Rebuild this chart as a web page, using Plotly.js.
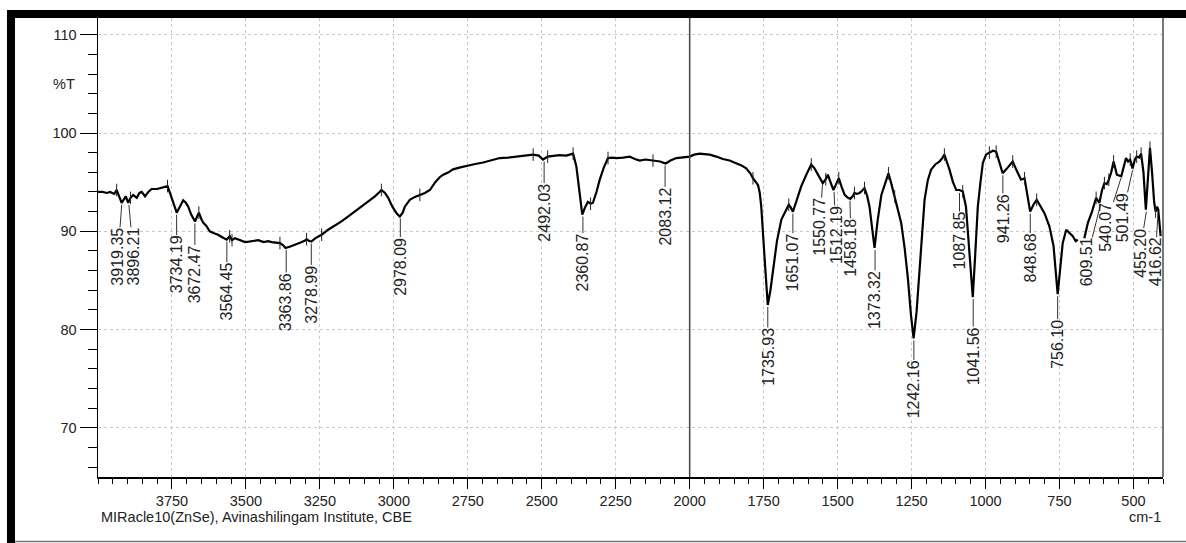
<!DOCTYPE html>
<html>
<head>
<meta charset="utf-8">
<script src="https://cdn.plot.ly/plotly-3.0.1.min.js"></script>
<style>
html,body{margin:0;padding:0;background:#fff;}
#chart{width:1186px;height:543px;}
</style>
</head>
<body>
<div id="chart"></div>
<script>
// Spectrum (wavenumber, cm-1) and %T
const wavenumber = [4000,3985,3970,3959,3945,3937,3928,3920,3906,3898,3890,3881,3869,3860,3852,3841,3830,3819,3800,3785,3775,3765,3758,3751,3742,3734,3725,3712,3703,3695,3685,3672,3665,3659,3650,3644,3635,3622,3608,3594,3580,3565,3555,3547,3537,3520,3503,3490,3475,3458,3440,3425,3413,3400,3385,3375,3366,3350,3334,3315,3300,3295,3285,3278,3265,3244,3222,3200,3177,3155,3132,3110,3092,3075,3064,3050,3042,3030,3019,3005,2990,2980,2970,2963,2946,2929,2912,2895,2878,2860,2845,2833,2815,2800,2775,2754,2725,2698,2670,2642,2615,2586,2560,2529,2510,2496,2480,2462,2440,2417,2394,2383,2372,2363,2354,2344,2335,2327,2315,2304,2290,2276,2262,2248,2225,2203,2185,2169,2150,2124,2100,2081,2065,2045,2020,2000,1985,1966,1950,1932,1910,1888,1865,1842,1825,1809,1795,1786,1778,1769,1763,1758,1747,1736,1727,1719,1705,1690,1675,1665,1658,1651,1640,1623,1605,1589,1578,1567,1558,1550,1540,1533,1524,1514,1505,1496,1486,1476,1465,1457,1448,1443,1435,1426,1418,1409,1400,1392,1384,1375,1365,1352,1340,1328,1318,1307,1296,1285,1273,1262,1252,1243,1233,1223,1214,1206,1195,1184,1170,1155,1145,1139,1130,1122,1110,1099,1088,1077,1066,1055,1043,1035,1026,1017,1009,998,987,975,964,953,942,930,920,908,895,880,868,858,849,838,827,815,800,784,770,756,746,739,727,716,705,695,688,677,666,654,640,626,615,606,598,590,583,575,567,560,556,541,533,525,518,511,503,495,489,481,474,466,458,451,444,437,430,425,420,416,412,408];
const transmittance = [94.0,94.0,93.9,94.0,93.8,94.2,93.5,92.9,93.55,92.9,93.4,93.7,93.4,93.9,94.0,93.55,94.0,94.3,94.3,94.4,94.5,94.6,94.0,93.4,92.6,91.9,92.4,93.15,92.9,92.5,91.7,91.0,91.5,91.9,91.2,90.85,90.6,90.0,89.8,89.65,89.4,89.15,89.5,89.1,89.3,89.1,88.9,88.95,89.0,89.1,88.9,89.0,88.9,88.85,88.8,88.6,88.3,88.45,88.6,88.85,89.05,89.2,89.0,88.97,89.3,89.65,90.16,90.55,91.0,91.5,92.0,92.5,92.9,93.3,93.55,93.95,94.2,93.9,93.4,92.5,91.8,91.5,91.9,92.5,93.2,93.5,93.7,93.9,94.2,95.0,95.5,95.76,96.0,96.3,96.5,96.67,96.85,97.0,97.2,97.45,97.5,97.6,97.7,97.8,97.7,97.3,97.6,97.7,97.75,97.7,97.9,96.6,94.0,91.7,92.4,93.0,92.8,92.9,94.0,95.25,96.5,97.45,97.5,97.45,97.5,97.6,97.35,97.2,97.3,97.2,97.1,96.9,97.2,97.45,97.5,97.6,97.8,97.9,97.85,97.8,97.6,97.35,97.2,96.95,96.7,96.4,95.9,95.4,95.1,94.7,93.9,92.5,87.4,82.5,84.0,85.75,89.0,91.2,92.2,92.7,92.4,92.0,93.0,94.57,95.8,96.8,96.4,95.76,95.2,94.9,95.3,95.76,95.0,94.2,94.8,95.4,94.5,93.7,93.4,93.3,93.6,93.9,93.8,93.9,94.1,94.4,93.6,92.5,90.5,88.3,91.0,93.7,94.8,95.9,94.8,93.55,92.3,90.85,88.2,85.1,81.5,79.1,81.8,85.75,89.8,93.2,95.2,96.27,96.8,97.1,97.5,97.8,97.0,96.3,95.0,94.2,94.2,94.06,92.5,88.0,83.3,87.5,92.5,95.0,96.95,97.8,98.0,98.2,98.1,97.0,95.9,96.3,96.7,97.1,96.2,95.25,95.4,93.6,92.0,92.7,93.2,92.6,91.8,90.5,88.5,83.6,86.5,88.8,90.16,89.8,89.5,89.0,89.15,null,89.3,90.85,92.0,93.4,92.9,94.2,94.9,94.8,95.25,96.0,97.1,96.2,95.76,95.6,96.5,97.45,97.1,97.3,96.4,97.3,97.6,97.5,97.9,96.0,92.2,95.0,98.5,96.0,93.0,92.0,92.5,92.2,90.5,89.5];

// Peak labels (wavenumber text) and %T at each labelled peak
const peakLabels = ["3919.35","3896.21","3734.19","3672.47","3564.45","3363.86","3278.99","2978.09","2492.03","2360.87","2083.12","1735.93","1651.07","1550.77","1512.19","1458.18","1373.32","1242.16","1087.85","1041.56","941.26","848.68","756.10","609.51","540.07","501.49","455.20","416.62"];
const peakT = [92.9,92.9,91.9,91.0,89.15,88.3,88.97,91.5,97.3,91.7,96.9,82.5,92.0,94.9,94.2,93.3,88.3,79.1,94.1,83.3,95.9,92.0,83.6,92.9,95.6,96.4,92.2,92.0];
// Label placement offsets in pixels (layout only)
const labelDX = [-4,5,0,0,0,0,0,0,0,0,0,0,0,-3,2,1,0,0,0,0,0,0,0,-15,-16,-11,-7,-3];
const labelDY = [54,54,52,53,52,54,53,50,53,48,53,52,51,44,45,49,52,51,50,59,45,46.5,50,59.5,51,49,43.5,50.5];

// Small peak-position marks drawn on the curve (wavenumbers present in the data)
const markWn = [3937,3890,3765,3659,3555,3547,3385,3295,3244,3042,2912,2529,2480,2394,2335,2276,2124,1786,1665,1589,1540,1496,1443,1409,1328,1307,1139,1077,987,964,908,868,827,626,598,583,567,511,489,474,444,425];

// Axis tick labels
const xTickVals = [3750,3500,3250,3000,2750,2500,2250,2000,1750,1500,1250,1000,750,500];
const yTickVals = [70,80,90,100,110];

const markT = markWn.map(w => transmittance[wavenumber.indexOf(w)]);

const FONT = "Liberation Sans, Arial, sans-serif";

const traces = [
  {
    x: wavenumber, y: transmittance, type: "scatter", mode: "lines",
    line: {color: "#000", width: 2.2}, connectgaps: false, hoverinfo: "skip"
  },
  {
    x: markWn, y: markT, type: "scatter", mode: "markers",
    marker: {symbol: "line-ns", size: 9, color: "#000", line: {color: "#222", width: 1}},
    hoverinfo: "skip"
  }
];

const annotations = peakLabels.map((lab, i) => ({
  x: parseFloat(lab), y: peakT[i], xref: "x", yref: "y",
  text: lab, textangle: -90, showarrow: true, arrowhead: 0, arrowwidth: 1,
  arrowcolor: "#333", ax: labelDX[i], ay: labelDY[i], standoff: 2,
  font: {family: FONT, size: 16, color: "#222"}, borderpad: 0
}));

annotations.push(
  {x: -0.0197, y: 105, xref: "paper", yref: "y", text: "%T", showarrow: false,
   xanchor: "right", yanchor: "middle", font: {family: FONT, size: 14.5, color: "#222"}},
  {x: 0.001, y: -0.0871, xref: "paper", yref: "paper", text: "MIRacle10(ZnSe), Avinashilingam Institute, CBE",
   showarrow: false, xanchor: "left", yanchor: "middle", font: {family: FONT, size: 14.5, color: "#222"}},
  {x: 1.0, y: -0.0871, xref: "paper", yref: "paper", text: "cm-1",
   showarrow: false, xanchor: "right", yanchor: "middle", font: {family: FONT, size: 14.5, color: "#222"}}
);

const shapes = [
  // vertical marker line at 2000 cm-1
  {type: "line", xref: "x", yref: "paper", x0: 2000, x1: 2000, y0: 0, y1: 1,
   line: {color: "#444", width: 1.5}, layer: "above"},
  // right plot border
  {type: "line", xref: "paper", yref: "paper", x0: 1, x1: 1, y0: 0, y1: 1,
   line: {color: "#777", width: 2}},
  // outer frame: left black bar
  {type: "rect", xref: "paper", yref: "paper", x0: -0.08545, x1: -0.07793, y0: -0.1438, y1: 1.0174,
   fillcolor: "#000", line: {width: 0}},
  // top black bar
  {type: "rect", xref: "paper", yref: "paper", x0: -0.08545, x1: 1.0216, y0: 1.0, y1: 1.0174,
   fillcolor: "#000", line: {width: 0}},
  // bottom gray line
  {type: "line", xref: "paper", yref: "paper", x0: -0.0779, x1: 1.0216, y0: -0.1405, y1: -0.1405,
   line: {color: "#777", width: 1.5}}
];

const layout = {
  width: 1186, height: 543,
  margin: {l: 98, r: 23, t: 18, b: 66},
  paper_bgcolor: "#fff", plot_bgcolor: "#fff",
  showlegend: false,
  font: {family: FONT, size: 14.5, color: "#222"},
  xaxis: {
    range: [4000, 400], autorange: false,
    tickmode: "array", tickvals: xTickVals, ticktext: xTickVals.map(String),
    ticks: "outside", ticklen: 10, tickwidth: 1, tickcolor: "#000",
    showline: true, linecolor: "#000", linewidth: 1.5,
    showgrid: true, gridcolor: "#c8c8c8", griddash: "dot", gridwidth: 1,
    zeroline: false,
    minor: {dtick: 50, tick0: 0, ticks: "outside", ticklen: 5, tickwidth: 1, tickcolor: "#000", showgrid: false},
    tickfont: {family: FONT, size: 14.5, color: "#222"}
  },
  yaxis: {
    range: [65, 111.7], autorange: false,
    tickmode: "array", tickvals: yTickVals, ticktext: yTickVals.map(String),
    ticks: "outside", ticklen: 17, tickwidth: 1, tickcolor: "#000",
    showline: true, linecolor: "#000", linewidth: 1.5,
    showgrid: true, gridcolor: "#c8c8c8", griddash: "dot", gridwidth: 1,
    zeroline: false,
    minor: {dtick: 2, tick0: 0, ticks: "outside", ticklen: 9, tickwidth: 1, tickcolor: "#000", showgrid: false},
    tickfont: {family: FONT, size: 14.5, color: "#222"}
  },
  annotations: annotations,
  shapes: shapes
};

Plotly.newPlot("chart", traces, layout, {displayModeBar: false, staticPlot: true});
</script>
</body>
</html>
